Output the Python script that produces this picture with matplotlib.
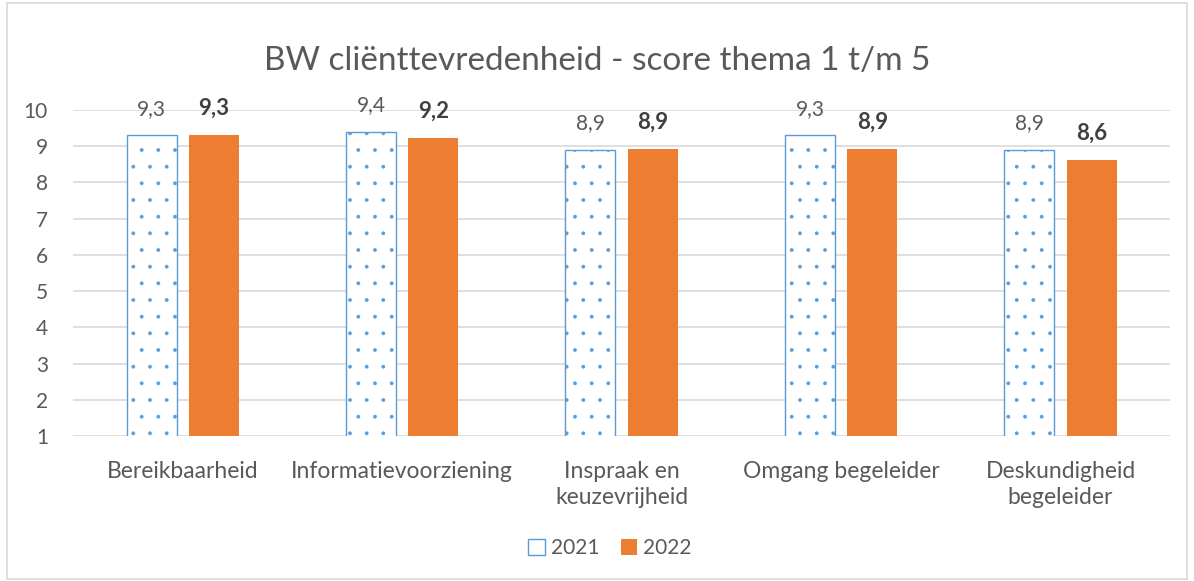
import numpy as np
import matplotlib.pyplot as plt
from matplotlib.patches import Rectangle, Patch

categories = ["Bereikbaarheid", "Informatievoorziening", "Inspraak en\nkeuzevrijheid",
              "Omgang begeleider", "Deskundigheid\nbegeleider"]
scores_2021 = [9.3, 9.4, 8.9, 9.3, 8.9]
scores_2022 = [9.32, 9.22, 8.93, 8.93, 8.62]
years = ["2021", "2022"]

plt.rcParams["font.family"] = ["Lato", "DejaVu Sans"]
plt.rcParams["hatch.linewidth"] = 0.3

blue = "#5b9bd5"
orange = "#ed7d31"
textc = "#595959"

fig = plt.figure(figsize=(11.94, 5.81), dpi=100)
ax = fig.add_axes([0.0611, 0.2496, 0.919, 0.5611])

x = np.arange(len(categories))
w = 0.228
off = 0.142

ax.bar(x - off, scores_2021, w, color="white", edgecolor=blue,
       hatch=".", linewidth=1.0, zorder=3)
ax.bar(x + off, scores_2022, w, color=orange, zorder=3)

for xi, v in zip(x, scores_2021):
    ax.text(xi - off, v + 0.45, f"{v:.1f}".replace(".", ","), ha="center", va="bottom",
            fontsize=15, color=textc)
for xi, v in zip(x, scores_2022):
    ax.text(xi + off, v + 0.45, f"{v:.1f}".replace(".", ","), ha="center", va="bottom",
            fontsize=16, color="#404040", fontweight="bold")

ax.set_ylim(1, 10)
ax.set_xlim(-0.5, len(categories) - 0.5)
ax.set_yticks(range(1, 11))
ax.yaxis.grid(True, color="#d9d9d9", linewidth=1.2, zorder=0)
ax.set_axisbelow(True)
for s in ax.spines.values():
    s.set_visible(False)
ax.tick_params(axis="y", length=0, labelsize=15, labelcolor=textc, pad=18)
ax.tick_params(axis="x", length=0, labelsize=16.5, labelcolor=textc, pad=18)
ax.set_xticks(x)
ax.set_xticklabels(categories, linespacing=1.3)

fig.text(0.5, 0.895, "BW cliënttevredenheid - score thema 1 t/m 5", ha="center",
         va="center", fontsize=24, color=textc)

handles = [Patch(facecolor="white", edgecolor=blue, linewidth=1.0),
           Patch(facecolor=orange)]
ax.legend(handles, years, loc="center", bbox_to_anchor=(0.511, 0.057),
          bbox_transform=fig.transFigure, ncol=2, frameon=False, fontsize=15,
          handlelength=0.8, handleheight=0.8, handletextpad=0.3, columnspacing=1.0,
          labelcolor=textc)

fig.add_artist(Rectangle((0.006, 0.004), 0.988, 0.99, transform=fig.transFigure,
                         fill=False, edgecolor="#d9d9d9", linewidth=1.2))

fig.savefig("out.png", dpi=100)
